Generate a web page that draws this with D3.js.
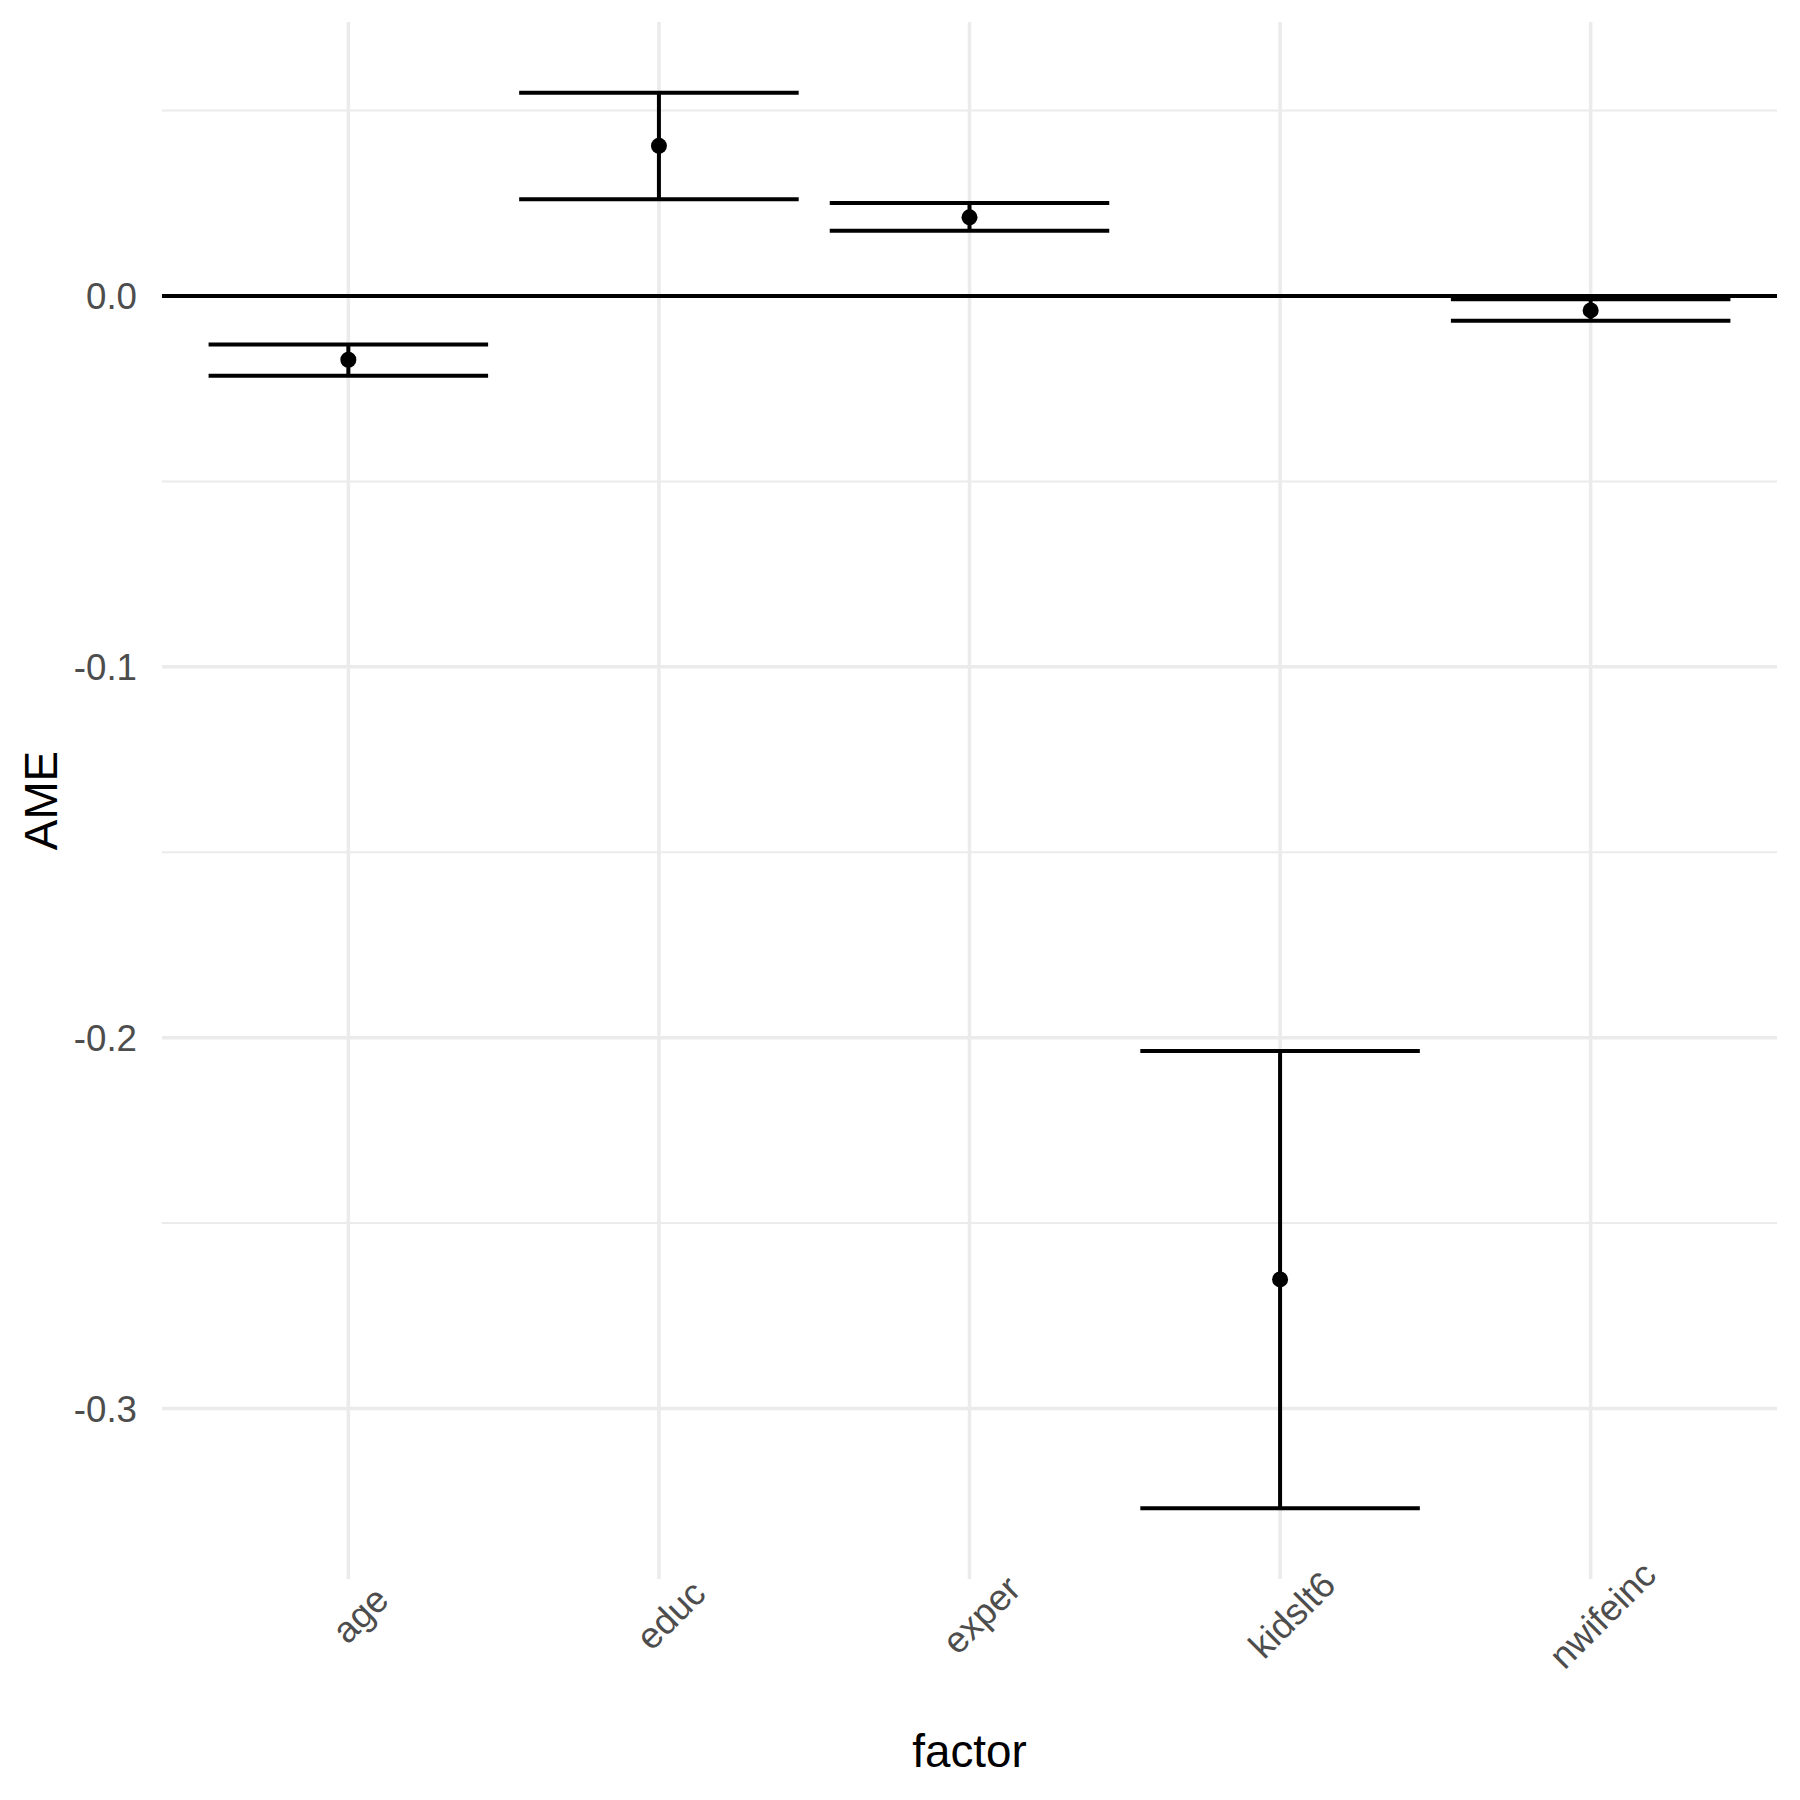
<!DOCTYPE html>
<html>
<head>
<meta charset="utf-8">
<script src="https://cdn.jsdelivr.net/npm/d3@7"></script>
<style>
  html, body { margin: 0; padding: 0; background: #ffffff; }
  svg { display: block; }
</style>
</head>
<body>
<svg id="chart" width="1800" height="1800"></svg>
<script>
// ---- data ----
const categories = ["age", "educ", "exper", "kidslt6", "nwifeinc"];
const ame        = [-0.0172, 0.0405, 0.0212, -0.2652, -0.0039];
const lower      = [-0.0215, 0.0261, 0.0176, -0.3269, -0.0067];
const upper      = [-0.0131, 0.0548, 0.0251, -0.2036, -0.0009];
const majorTicks = [-0.3, -0.2, -0.1, 0.0];
const majorTickLabels = ["-0.3", "-0.2", "-0.1", "0.0"];
const minorTicks = [-0.25, -0.15, -0.05, 0.05];
const xTitle = "factor";
const yTitle = "AME";

const rows = categories.map((c, i) => ({ cat: c, ame: ame[i], lo: lower[i], hi: upper[i] }));

// ---- layout ----
const W = 1800, H = 1800;
const panel = { left: 162, right: 1777, top: 22, bottom: 1579 };
const font = "'Liberation Sans', Arial, Helvetica, sans-serif";

const svg = d3.select("#chart");
svg.append("rect").attr("width", W).attr("height", H).attr("fill", "#ffffff");

// ggplot-like expansion: discrete 0.6 units, continuous 5%
const yMin = d3.min(lower), yMax = d3.max(upper);
const pad = (yMax - yMin) * 0.05;
const y = d3.scaleLinear().domain([yMin - pad, yMax + pad]).range([panel.bottom, panel.top]);
const xIdx = d3.scaleLinear().domain([0.4, categories.length + 0.6]).range([panel.left, panel.right]);
const x = c => xIdx(categories.indexOf(c) + 1);
const unit = xIdx(1) - xIdx(0);

const grid = svg.append("g");
// minor horizontal grid
grid.selectAll("line.minor").data(minorTicks).join("line")
  .attr("x1", panel.left).attr("x2", panel.right)
  .attr("y1", d => y(d)).attr("y2", d => y(d))
  .attr("stroke", "#EBEBEB").attr("stroke-width", 2);
// major horizontal grid
grid.selectAll("line.majorY").data(majorTicks).join("line")
  .attr("x1", panel.left).attr("x2", panel.right)
  .attr("y1", d => y(d)).attr("y2", d => y(d))
  .attr("stroke", "#EBEBEB").attr("stroke-width", 3.5);
// major vertical grid
grid.selectAll("line.majorX").data(categories).join("line")
  .attr("x1", d => x(d)).attr("x2", d => x(d))
  .attr("y1", panel.top).attr("y2", panel.bottom)
  .attr("stroke", "#EBEBEB").attr("stroke-width", 3.5);

// zero reference line
svg.append("line")
  .attr("x1", panel.left).attr("x2", panel.right)
  .attr("y1", y(0)).attr("y2", y(0))
  .attr("stroke", "#000").attr("stroke-width", 4);

// error bars (width 0.9)
const eb = svg.append("g").attr("stroke", "#000").attr("stroke-width", 4).attr("fill", "none");
const half = unit * 0.45;
rows.forEach(r => {
  const cx = x(r.cat);
  eb.append("line").attr("x1", cx).attr("x2", cx).attr("y1", y(r.hi)).attr("y2", y(r.lo));
  eb.append("line").attr("x1", cx - half).attr("x2", cx + half).attr("y1", y(r.hi)).attr("y2", y(r.hi));
  eb.append("line").attr("x1", cx - half).attr("x2", cx + half).attr("y1", y(r.lo)).attr("y2", y(r.lo));
});

// points
svg.append("g").selectAll("circle").data(rows).join("circle")
  .attr("cx", d => x(d.cat)).attr("cy", d => y(d.ame)).attr("r", 8).attr("fill", "#000");

// y tick labels
svg.append("g").selectAll("text").data(majorTicks).join("text")
  .attr("x", 137).attr("y", d => y(d)).attr("dy", "0.36em")
  .attr("text-anchor", "end")
  .attr("font-family", font).attr("font-size", 36.7).attr("fill", "#4D4D4D")
  .text((d, i) => majorTickLabels[i]);

// x tick labels rotated 45°
svg.append("g").selectAll("text").data(categories).join("text")
  .attr("transform", d => `translate(${x(d) + 13},${1616}) rotate(-45)`)
  .attr("text-anchor", "middle").attr("dy", "0.3em")
  .attr("font-family", font).attr("font-size", 36.7).attr("fill", "#4D4D4D")
  .text(d => d);

// axis titles
svg.append("text")
  .attr("x", (panel.left + panel.right) / 2).attr("y", 1767)
  .attr("text-anchor", "middle")
  .attr("font-family", font).attr("font-size", 45.8).attr("fill", "#000")
  .text(xTitle);

svg.append("text")
  .attr("transform", `translate(57,${(panel.top + panel.bottom) / 2}) rotate(-90)`)
  .attr("text-anchor", "middle")
  .attr("font-family", font).attr("font-size", 45.8).attr("fill", "#000")
  .text(yTitle);
</script>
</body>
</html>
